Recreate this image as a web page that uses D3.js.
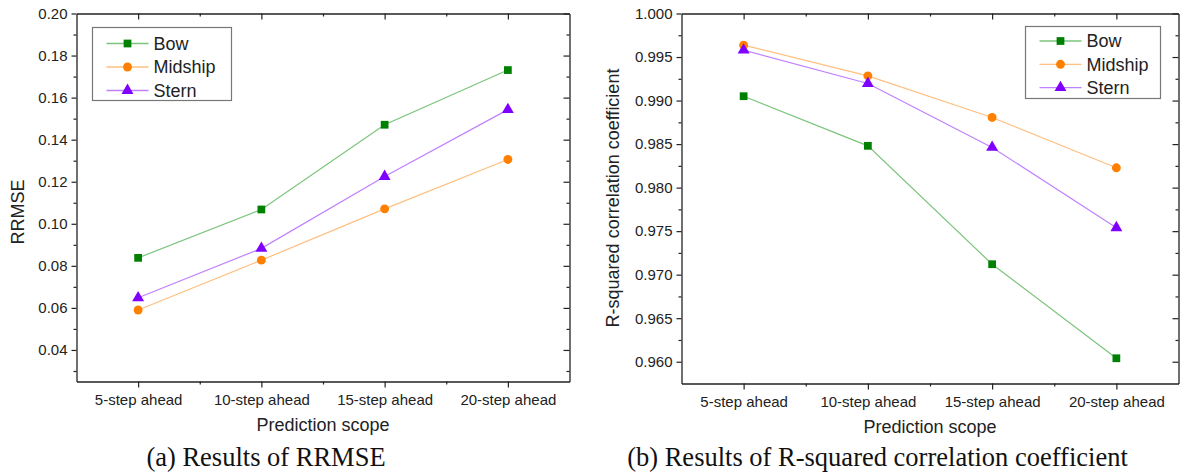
<!DOCTYPE html>
<html>
<head>
<meta charset="utf-8">
<script src="https://cdn.jsdelivr.net/npm/d3@7"></script>
<style>
  html, body { margin: 0; padding: 0; background: #fff; }
  svg { display: block; }
  text { font-family: "Liberation Sans", Arial, sans-serif; fill: #222; }
  .caption { font-family: "Liberation Serif", "Times New Roman", serif; fill: #111; }
</style>
</head>
<body>
<svg id="chart" width="1183" height="474"></svg>
<script>
// ---- data ----
const categories = ["5-step ahead", "10-step ahead", "15-step ahead", "20-step ahead"];
const seriesNames = ["Bow", "Midship", "Stern"];

const rrmseBow     = [0.0838, 0.1068, 0.1471, 0.1731];
const rrmseMidship = [0.0590, 0.0827, 0.1071, 0.1306];
const rrmseStern   = [0.0648, 0.0883, 0.1225, 0.1543];

const r2Bow     = [0.9905, 0.9848, 0.9712, 0.9604];
const r2Midship = [0.99636, 0.99284, 0.98806, 0.98228];
const r2Stern   = [0.99579, 0.99196, 0.98462, 0.97539];

const rrmseTicks = [0.04, 0.06, 0.08, 0.10, 0.12, 0.14, 0.16, 0.18, 0.20];
const rrmseMinorTicks = [0.03, 0.05, 0.07, 0.09, 0.11, 0.13, 0.15, 0.17, 0.19];
const r2Ticks = [0.960, 0.965, 0.970, 0.975, 0.980, 0.985, 0.990, 0.995, 1.000];
const r2MinorTicks = [0.9625, 0.9675, 0.9725, 0.9775, 0.9825, 0.9875, 0.9925, 0.9975];

// ---- styles ----
const markerColors = { Bow: "#008000", Midship: "#ff8000", Stern: "#8000ff" };
const lineColors   = { Bow: "#7cc47c", Midship: "#ffbf80", Stern: "#c080ff" };
const symbols = { Bow: d3.symbolSquare, Midship: d3.symbolCircle, Stern: d3.symbolTriangle };
const symbolSizes = { Bow: 60, Midship: 62, Stern: 62 };

const svg = d3.select("#chart");

function drawChart(opt) {
  const g = svg.append("g");
  const { left, top, right, bottom } = opt.box;
  const x = d3.scalePoint().domain(categories).range([left, right]).padding(0.5);
  const y = d3.scaleLinear().domain(opt.yDomain).range([bottom, top]);
  const step = x.step();
  const xMinor = categories.slice(0, -1).map(c => x(c) + step / 2);
  const xLin = d3.scaleLinear().domain([left, right]).range([left, right]);

  const axisColor = "#222";
  const styleAxis = sel => {
    sel.selectAll("path.domain").attr("stroke", axisColor).attr("stroke-width", 1.3);
    sel.selectAll(".tick line").attr("stroke", axisColor).attr("stroke-width", 1.2);
    sel.selectAll(".tick text").style("font-size", "15px").style("font-family", "'Liberation Sans', Arial, sans-serif").attr("fill", "#222");
  };

  // bottom major
  g.append("g").attr("transform", `translate(0,${bottom})`)
    .call(d3.axisBottom(x).tickSize(6).tickPadding(7).tickSizeOuter(0))
    .call(styleAxis);
  // bottom minor
  g.append("g").attr("transform", `translate(0,${bottom})`)
    .call(d3.axisBottom(xLin).tickValues(xMinor).tickSize(3).tickFormat("").tickSizeOuter(0))
    .call(styleAxis).select("path.domain").remove();
  // top major (inward)
  g.append("g").attr("transform", `translate(0,${top})`)
    .call(d3.axisBottom(x).tickSize(6).tickFormat("").tickSizeOuter(0))
    .call(styleAxis);
  g.append("g").attr("transform", `translate(0,${top})`)
    .call(d3.axisBottom(xLin).tickValues(xMinor).tickSize(3).tickFormat("").tickSizeOuter(0))
    .call(styleAxis).select("path.domain").remove();
  // left major
  g.append("g").attr("transform", `translate(${left},0)`)
    .call(d3.axisLeft(y).tickValues(opt.yTicks).tickFormat(d3.format(opt.fmt)).tickSize(5).tickPadding(4).tickSizeOuter(0))
    .call(styleAxis);
  g.append("g").attr("transform", `translate(${left},0)`)
    .call(d3.axisLeft(y).tickValues(opt.yMinor).tickFormat("").tickSize(3).tickSizeOuter(0))
    .call(styleAxis).select("path.domain").remove();
  // right (inward)
  g.append("g").attr("transform", `translate(${right},0)`)
    .call(d3.axisLeft(y).tickValues(opt.yTicks).tickFormat("").tickSize(6).tickSizeOuter(0))
    .call(styleAxis);
  g.append("g").attr("transform", `translate(${right},0)`)
    .call(d3.axisLeft(y).tickValues(opt.yMinor).tickFormat("").tickSize(3).tickSizeOuter(0))
    .call(styleAxis).select("path.domain").remove();

  // series
  const line = d3.line().x((d, i) => x(categories[i])).y(d => y(d));
  opt.series.forEach(s => {
    g.append("path").datum(s.values)
      .attr("d", line).attr("fill", "none")
      .attr("stroke", lineColors[s.name]).attr("stroke-width", 1.2);
  });
  opt.series.forEach(s => {
    g.selectAll(null).data(s.values).enter().append("path")
      .attr("d", d3.symbol().type(symbols[s.name]).size(symbolSizes[s.name]))
      .attr("transform", (d, i) => `translate(${x(categories[i])},${y(d)})`)
      .attr("fill", markerColors[s.name]);
  });

  // legend
  const L = opt.legend;
  g.append("rect").attr("x", L.x).attr("y", L.y).attr("width", L.w).attr("height", L.h)
    .attr("fill", "#fff").attr("stroke", "#777").attr("stroke-width", 1.2);
  seriesNames.forEach((name, i) => {
    const cy = L.y + L.first + i * L.gap;
    g.append("line").attr("x1", L.x + 14).attr("x2", L.x + 56).attr("y1", cy).attr("y2", cy)
      .attr("stroke", lineColors[name]).attr("stroke-width", 1.3);
    g.append("path").attr("d", d3.symbol().type(symbols[name]).size(symbolSizes[name])())
      .attr("transform", `translate(${L.x + 35},${cy})`).attr("fill", markerColors[name]);
    g.append("text").attr("x", L.x + 61).attr("y", cy).attr("dy", "0.36em")
      .style("font-size", "18px").text(name);
  });

  // axis titles
  g.append("text").attr("x", (left + right) / 2).attr("y", opt.xTitleY)
    .attr("text-anchor", "middle").style("font-size", "18px").text("Prediction scope");
  g.append("text").attr("transform", `translate(${opt.yTitleX},${opt.yTitleCY}) rotate(-90)`)
    .attr("text-anchor", "middle").style("font-size", "18px").text(opt.yTitle);

  // caption
  g.append("text").attr("class", "caption").attr("x", opt.captionX).attr("y", 466)
    .attr("text-anchor", "middle").style("font-size", "26.5px").text(opt.caption);
}

drawChart({
  box: { left: 76.5, top: 13.5, right: 569.5, bottom: 381.5 },
  yDomain: [0.025, 0.20],
  yTicks: rrmseTicks, yMinor: rrmseMinorTicks, fmt: ".2f",
  series: [
    { name: "Bow", values: rrmseBow },
    { name: "Midship", values: rrmseMidship },
    { name: "Stern", values: rrmseStern }
  ],
  legend: { x: 92.5, y: 27.5, w: 139, h: 73, first: 16, gap: 23.5 },
  xTitleY: 431, yTitleX: 24, yTitleCY: 212,
  yTitle: "RRMSE",
  caption: "(a) Results of RRMSE", captionX: 266
});

drawChart({
  box: { left: 681.5, top: 13.5, right: 1178.5, bottom: 383.5 },
  yDomain: [0.9575, 1.0],
  yTicks: r2Ticks, yMinor: r2MinorTicks, fmt: ".3f",
  series: [
    { name: "Bow", values: r2Bow },
    { name: "Midship", values: r2Midship },
    { name: "Stern", values: r2Stern }
  ],
  legend: { x: 1025.5, y: 26.5, w: 135, h: 72, first: 14.5, gap: 23.3 },
  xTitleY: 433, yTitleX: 619, yTitleCY: 198,
  yTitle: "R-squared correlation coefficient",
  caption: "(b) Results of R-squared correlation coefficient", captionX: 877.5
});
</script>
</body>
</html>
